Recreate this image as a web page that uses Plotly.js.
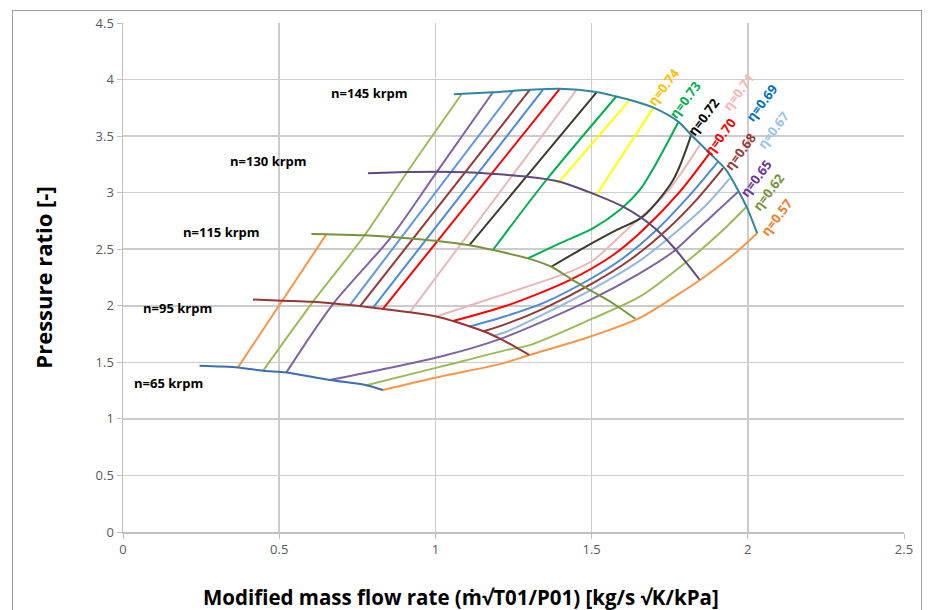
<!DOCTYPE html>
<html>
<head>
<meta charset="utf-8">
<script src="https://cdn.plot.ly/plotly-3.0.1.min.js"></script>
<style>
html,body{margin:0;padding:0;background:#fff;}
#wrap{position:relative;width:929px;height:610px;overflow:hidden;}
#chart{width:929px;height:610px;}
#frame{position:absolute;left:12px;top:10px;width:908px;height:640px;border:1px solid #a0a0a0;pointer-events:none;}
</style>
</head>
<body>
<div id="wrap"><div id="chart"></div><div id="frame"></div></div>
<script>
// ---- Speed lines ----
const n65X  = [0.245,0.368,0.448,0.523,0.662,0.779,0.832];
const n65Y  = [1.47,1.455,1.425,1.41,1.343,1.298,1.255];
const n95X  = [0.416,0.51,0.608,0.726,0.832,0.918,1.003,1.056,1.12,1.163,1.20,1.25,1.30];
const n95Y  = [2.055,2.045,2.035,2.006,1.972,1.942,1.905,1.865,1.808,1.766,1.718,1.645,1.565];
const n115X = [0.603,0.651,0.774,0.90,1.0,1.109,1.184,1.296,1.371,1.44,1.504,1.569,1.64];
const n115Y = [2.635,2.632,2.623,2.60,2.575,2.535,2.493,2.419,2.345,2.227,2.124,2.02,1.885];
const n130X = [0.784,0.907,1.003,1.10,1.184,1.291,1.398,1.515,1.601,1.697,1.761,1.846];
const n130Y = [3.172,3.182,3.186,3.18,3.166,3.142,3.097,2.98,2.876,2.699,2.522,2.23];
const n145X = [1.059,1.184,1.302,1.398,1.515,1.579,1.622,1.702,1.777,1.819,1.878,1.931,1.969,1.996,2.030];
const n145Y = [3.871,3.888,3.909,3.918,3.89,3.85,3.82,3.747,3.628,3.51,3.349,3.2,3.02,2.876,2.641];
const speedLabels = ['n=65 krpm','n=95 krpm','n=115 krpm','n=130 krpm','n=145 krpm'];

// ---- Efficiency lines (left and right branches) ----
const e057LX = [0.368,0.651];             const e057LY = [1.455,2.632];
const e057RX = [0.832,1.014,1.206,1.302,1.494,1.654,1.782,1.846,1.953,2.030];
const e057RY = [1.255,1.372,1.484,1.565,1.726,1.893,2.11,2.226,2.449,2.641];
const e062LX = [0.448,0.608,0.774,0.907,1.083]; const e062LY = [1.425,2.035,2.626,3.172,3.868];
const e062RX = [0.779,1.014,1.227,1.302,1.504,1.654,1.804,1.921,1.996];
const e062RY = [1.298,1.46,1.608,1.652,1.888,2.08,2.389,2.67,2.876];
const e065LX = [0.523,0.672,0.859,1.003,1.184]; const e065LY = [1.411,2.015,2.61,3.177,3.888];
const e065RX = [0.662,1.014,1.206,1.494,1.654,1.761,1.836,1.969];
const e065RY = [1.343,1.549,1.705,2.05,2.287,2.478,2.668,3.009];
const e067LX = [0.726,1.248];             const e067LY = [2.006,3.90];
const e067RX = [1.184,1.227,1.35,1.504,1.65,1.777,1.87,1.942];
const e067RY = [1.734,1.77,1.93,2.15,2.39,2.668,2.90,3.127];
const e068LX = [0.757,1.302];             const e068LY = [1.99,3.909];
const e068RX = [1.152,1.227,1.35,1.504,1.62,1.739,1.84,1.921];
const e068RY = [1.772,1.84,1.98,2.20,2.40,2.668,2.95,3.216];
const e069LX = [0.80,1.344];              const e069LY = [1.982,3.909];
const e069RX = [1.11,1.227,1.35,1.504,1.60,1.707,1.815,1.905];
const e069RY = [1.818,1.91,2.03,2.25,2.42,2.668,2.98,3.274];
const e070LX = [0.832,1.398];             const e070LY = [1.972,3.918];
const e070RX = [1.056,1.227,1.43,1.569,1.664,1.78,1.878];
const e070RY = [1.865,2.0,2.227,2.449,2.668,3.0,3.349];
const e071LX = [0.918,1.451];             const e071LY = [1.942,3.907];
const e071RX = [1.003,1.227,1.43,1.504,1.611,1.74,1.846];
const e071RY = [1.905,2.109,2.30,2.40,2.668,3.0,3.42];
const e072LX = [1.109,1.291,1.515];       const e072LY = [2.537,3.142,3.885];
const e072RX = [1.371,1.472,1.579,1.664,1.761,1.82];
const e072RY = [2.345,2.508,2.668,2.788,3.112,3.52];
const e073LX = [1.184,1.355,1.579];       const e073LY = [2.493,3.112,3.85];
const e073RX = [1.296,1.398,1.504,1.59,1.654,1.707,1.777];
const e073RY = [2.419,2.552,2.685,2.847,3.024,3.26,3.62];
const e074LX = [1.392,1.622];             const e074LY = [3.083,3.82];
const e074RX = [1.515,1.697];             const e074RY = [2.98,3.747];
const etaLabels = ['η=0.57','η=0.62','η=0.65','η=0.67','η=0.68','η=0.69','η=0.70','η=0.71','η=0.72','η=0.73','η=0.74'];

const xTitle = 'Modified mass flow rate (ṁ√T01/P01) [kg/s √K/kPa]';
const yTitle = 'Pressure ratio [-]';

function line(x, y, color, w) {
  return {x: x, y: y, type: 'scatter', mode: 'lines', line: {color: color, width: w || 2, shape: 'spline', smoothing: 0.8}, hoverinfo: 'skip', showlegend: false};
}

const C = {
  e057: '#f79646', e062: '#9bbb59', e065: '#8064a2', e067L: '#5f98dc', e067R: '#95b8e0', e068: '#953735',
  e069: '#4a8ad8', e070: '#ff0000', e071: '#e6b9b8', e072: '#3b3a2c', e073: '#00b050', e074: '#ffff00'
};
const labelColors = ['#f0802a','#77933c','#7030a0','#9dc3e6','#953735','#0070c0','#ff0000','#f4b6b6','#000000','#00b050','#ffc000'];

const traces = [
  line(e057LX,e057LY,C.e057), line(e057RX,e057RY,C.e057),
  line(e062LX,e062LY,C.e062), line(e062RX,e062RY,C.e062),
  line(e065LX,e065LY,C.e065), line(e065RX,e065RY,C.e065),
  line(e067LX,e067LY,C.e067L), line(e067RX,e067RY,C.e067R),
  line(e068LX,e068LY,C.e068), line(e068RX,e068RY,C.e068),
  line(e069LX,e069LY,C.e069), line(e069RX,e069RY,C.e069),
  line(e070LX,e070LY,C.e070), line(e070RX,e070RY,C.e070),
  line(e071LX,e071LY,C.e071), line(e071RX,e071RY,C.e071),
  line(e072LX,e072LY,C.e072), line(e072RX,e072RY,C.e072),
  line(e073LX,e073LY,C.e073), line(e073RX,e073RY,C.e073),
  line(e074LX,e074LY,C.e074), line(e074RX,e074RY,C.e074),
  line(n65X,n65Y,'#3d6db3'),
  line(n95X,n95Y,'#953735'),
  line(n115X,n115Y,'#77933c'),
  line(n130X,n130Y,'#604a7b'),
  line(n145X,n145Y,'#31859c')
];

// label anchor positions (layout)
const speedPos = [[0.146,1.313],[0.1735,1.977],[0.315,2.655],[0.467,3.28],[0.79,3.88]];
const etaPos = [[2.092,2.788],[2.065,3.009],[2.027,3.127],[2.081,3.555],[1.974,3.363],[2.044,3.79],[1.91,3.495],[1.969,3.894],[1.857,3.673],[1.798,3.82],[1.729,3.938]];

const FONT = 'Open Sans, sans-serif';
const annotations = [];
speedLabels.forEach((t,i)=>annotations.push({x:speedPos[i][0],y:speedPos[i][1],text:'<b>'+t+'</b>',showarrow:false,
  font:{family:FONT,size:13,color:'#000'}}));
etaLabels.forEach((t,i)=>annotations.push({x:etaPos[i][0],y:etaPos[i][1],text:'<b>'+t+'</b>',showarrow:false,textangle:-53,
  font:{family:FONT,size:13,color:labelColors[i]}}));
annotations.push({xref:'paper',yref:'paper',x:0.433,y:-0.128,xanchor:'center',yanchor:'middle',showarrow:false,
  text:'<b>'+xTitle+'</b>',font:{family:FONT,size:20.5,color:'#000'}});

const layout = {
  width: 929, height: 610,
  margin: {l:123, r:25, t:23, b:78},
  paper_bgcolor: '#fff', plot_bgcolor: '#fff',
  showlegend: false,
  xaxis: {range:[0,2.5], dtick:0.5, tick0:0, showgrid:true, gridcolor:'#cccccc', gridwidth:1.5,
    showline:true, linecolor:'#bfbfbf', linewidth:1.5, zeroline:false,
    ticks:'outside', ticklen:5, tickcolor:'#bfbfbf',
    tickfont:{family:FONT, size:13, color:'#595959'}},
  yaxis: {range:[0,4.5], dtick:0.5, tick0:0, showgrid:true, gridcolor:'#cccccc', gridwidth:1.5,
    showline:true, linecolor:'#bfbfbf', linewidth:1.5, zeroline:false,
    ticks:'outside', ticklen:5, tickcolor:'#bfbfbf',
    tickfont:{family:FONT, size:13, color:'#595959'},
    title:{text:'<b>'+yTitle+'</b>', font:{family:FONT, size:22, color:'#000'}, standoff:37}},
  annotations: annotations
};

Plotly.newPlot('chart', traces, layout, {displayModeBar:false, staticPlot:true});
</script>
</body>
</html>
